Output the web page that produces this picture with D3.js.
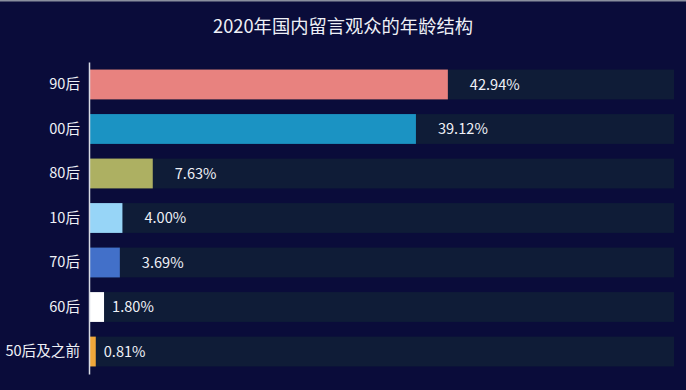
<!DOCTYPE html>
<html>
<head>
<meta charset="utf-8">
<script src="https://cdn.jsdelivr.net/npm/d3@7"></script>
<style>
  html, body { margin: 0; padding: 0; background: #0a0c3a; }
  svg { display: block; font-family: "Noto Sans CJK SC", "Noto Sans", sans-serif; }
</style>
</head>
<body>
<div id="chart"></div>
<script>
// 2020年国内留言观众的年龄结构 - barre orizzontali con traccia di sfondo
const titolo = '2020年国内留言观众的年龄结构';
const categorie = ['90后', '00后', '80后', '10后', '70后', '60后', '50后及之前'];
const valori = [42.94, 39.12, 7.63, 4.00, 3.69, 1.80, 0.81];
const colori = ['#e8827f', '#1b93c3', '#adb062', '#97d5f7', '#4270c9', '#ffffff', '#f0a73a'];
const massimo = 70;

const W = 686, H = 390;
const margin = { top: 62, right: 12, bottom: 16, left: 89 };

const svg = d3.select('#chart')
    .append('svg')
    .attr('width', W)
    .attr('height', H);

svg.append('rect')
    .attr('width', W).attr('height', H)
    .attr('fill', '#0a0c3a');

// striscia grigia in alto
svg.append('rect')
    .attr('width', W).attr('height', 1.5)
    .attr('fill', '#8a8f9e');

// Scale
const x = d3.scaleLinear()
    .domain([0, massimo])
    .range([margin.left, W - margin.right]);

const y = d3.scaleBand()
    .domain(categorie)
    .range([margin.top, H - margin.bottom])
    .paddingInner(0.33)
    .paddingOuter(0.17);

// Titolo
svg.append('text')
    .attr('x', W / 2)
    .attr('y', 33)
    .attr('text-anchor', 'middle')
    .attr('fill', '#eef0f6')
    .attr('font-size', '18.3px')
    .text(titolo);

const righe = categorie.map((c, i) => ({ cat: c, val: valori[i], col: colori[i] }));

// Tracce di sfondo
svg.selectAll('.traccia')
    .data(righe)
    .join('rect')
    .attr('class', 'traccia')
    .attr('x', x(0))
    .attr('y', d => y(d.cat))
    .attr('width', x(massimo) - x(0))
    .attr('height', y.bandwidth())
    .attr('fill', '#0f1c37');

// Barre
svg.selectAll('.barra')
    .data(righe)
    .join('rect')
    .attr('class', 'barra')
    .attr('x', x(0))
    .attr('y', d => y(d.cat))
    .attr('width', d => x(d.val) - x(0))
    .attr('height', y.bandwidth())
    .attr('fill', d => d.col);

// Etichette valori
svg.selectAll('.valore')
    .data(righe)
    .join('text')
    .attr('class', 'valore')
    .attr('x', d => x(d.val) + (d.val < 3 ? 8 : 22))
    .attr('y', d => y(d.cat) + y.bandwidth() / 2)
    .attr('dy', '0.35em')
    .attr('fill', '#eef0f6')
    .attr('font-size', '14.6px')
    .text(d => d.val.toFixed(2) + '%');

// Asse Y
const asse = svg.append('g')
    .attr('transform', `translate(${margin.left},0)`)
    .call(d3.axisLeft(y).tickSize(0).tickPadding(9));

asse.select('.domain')
    .attr('stroke', '#d8dbe4')
    .attr('stroke-width', 1.5);

asse.selectAll('text')
    .attr('fill', '#eef0f6')
    .attr('font-size', '14.6px')
    .attr('font-family', '"Noto Sans CJK SC", "Noto Sans", sans-serif');
</script>
</body>
</html>
